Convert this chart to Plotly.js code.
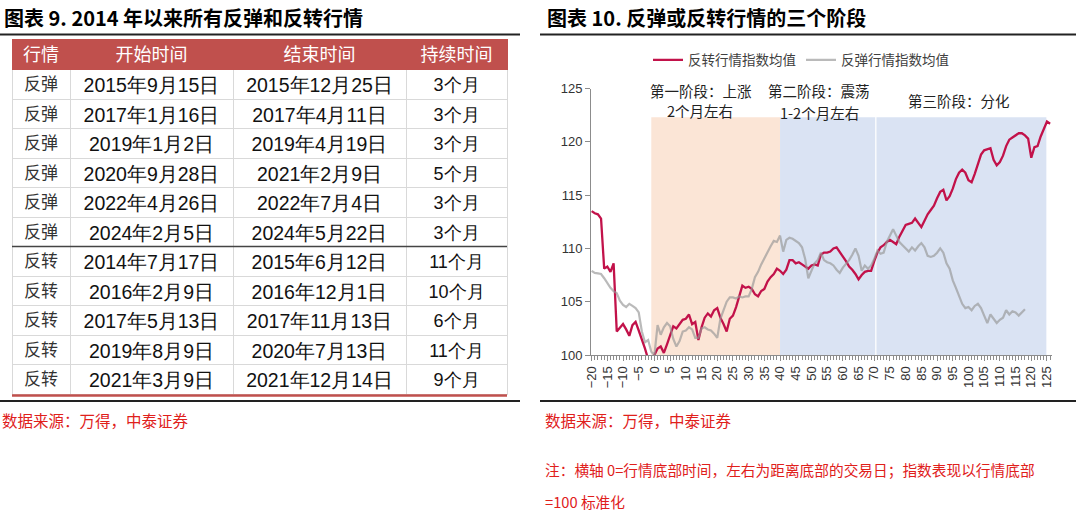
<!DOCTYPE html>
<html>
<head>
<meta charset="utf-8">
<script src="https://cdn.plot.ly/plotly-3.0.1.min.js"></script>
<style>
  html, body { margin: 0; padding: 0; background: #fff; }
  #chart { width: 1080px; height: 522px; }
</style>
</head>
<body>
<div id="chart"></div>
<script>
// 图表9：2014年以来所有反弹和反转行情
var tableHeader = ['行情', '开始时间', '结束时间', '持续时间'];
var marketType = ['反弹', '反弹', '反弹', '反弹', '反弹', '反弹', '反转', '反转', '反转', '反转', '反转'];
var startDate = ['2015年9月15日', '2017年1月16日', '2019年1月2日', '2020年9月28日', '2022年4月26日', '2024年2月5日',
                 '2014年7月17日', '2016年2月9日', '2017年5月13日', '2019年8月9日', '2021年3月9日'];
var endDate = ['2015年12月25日', '2017年4月11日', '2019年4月19日', '2021年2月9日', '2022年7月4日', '2024年5月22日',
               '2015年6月12日', '2016年12月1日', '2017年11月13日', '2020年7月13日', '2021年12月14日'];
var duration = ['3个月', '3个月', '3个月', '5个月', '3个月', '3个月', '11个月', '10个月', '6个月', '11个月', '9个月'];

// 图表10：横轴 0=行情底部时间（交易日），指数以底部=100标准化
var days = [-20, -19, -18, -17, -16, -15, -14, -13, -12, -11, -10, -9, -8, -7, -6, -5, -4, -3, -2, -1,
            0, 1, 2, 3, 4, 5, 6, 7, 8, 9, 10, 11, 12, 13, 14, 15, 16, 17, 18, 19,
            20, 21, 22, 23, 24, 25, 26, 27, 28, 29, 30, 31, 32, 33, 34, 35, 36, 37, 38, 39,
            40, 41, 42, 43, 44, 45, 46, 47, 48, 49, 50, 51, 52, 53, 54, 55, 56, 57, 58, 59,
            60, 61, 62, 63, 64, 65, 66, 67, 68, 69, 70, 71, 72, 73, 74, 75, 76, 77, 78, 79,
            80, 81, 82, 83, 84, 85, 86, 87, 88, 89, 90, 91, 92, 93, 94, 95, 96, 97, 98, 99,
            100, 101, 102, 103, 104, 105, 106, 107, 108, 109, 110, 111, 112, 113, 114, 115, 116, 117, 118, 119,
            120, 121, 122, 123, 124, 125, 126];

var reversalMean = [113.5, 113.3, 113.2, 112.8, 108.1, 108.3, 107.8, 108.6, 102.2, 102.6, 102.9, 102.4, 101.8, 102.8, 103.1, 102.3, 101.5, 100.6, 99.6, 99.6,
                    100.0, 100.6, 100.8, 100.2, 101.0, 101.9, 102.7, 102.5, 102.9, 103.3, 103.4, 103.8, 102.9, 103.1, 101.4, 102.6, 103.5, 103.9, 103.6, 104.2,
                    104.4, 103.5, 102.9, 102.2, 103.4, 103.7, 104.5, 105.5, 106.5, 106.3, 106.4, 106.2, 105.7, 105.5, 106.0, 106.2, 106.9, 107.3, 107.6, 108.1,
                    107.9, 107.6, 108.0, 108.9, 108.9, 108.6, 108.7, 108.5, 108.3, 108.1, 108.4, 108.5, 108.4, 109.4, 109.6, 109.6, 109.7, 110.0, 110.1, 109.7,
                    109.3, 108.8, 108.3, 108.0, 107.6, 107.1, 107.5, 107.8, 107.9, 107.9, 108.8, 109.6, 110.1, 110.3, 110.6, 110.8, 110.6, 110.4, 111.1, 111.6,
                    112.2, 112.3, 112.4, 112.8, 112.4, 112.0, 112.6, 113.2, 113.6, 114.0, 114.7, 115.3, 115.5, 114.5, 114.9, 115.6, 116.5, 117.1, 117.4, 117.1,
                    116.4, 116.2, 117.0, 118.0, 118.8, 119.2, 119.3, 119.4, 118.3, 117.8, 118.1, 118.7, 119.6, 120.2, 120.4, 120.6, 120.8, 120.8, 120.6, 120.3,
                    118.5, 119.5, 119.6, 120.5, 121.3, 121.9, 121.7];

var reboundMean = [107.9, 107.7, 107.65, 107.6, 107.2, 106.7, 106.3, 106.0, 105.8, 105.1, 104.7, 104.5, 104.8, 104.6, 104.4, 104.0, 102.2, 101.2, 101.4, 100.3,
                   100.0, 102.8, 101.9, 102.6, 103.0, 102.7, 101.5, 100.8, 101.3, 102.2, 102.3, 102.6, 102.4, 101.6, 101.6, 102.5, 102.6, 102.4, 102.3, 102.0,
                   101.6, 103.4, 104.3, 105.0, 105.4, 105.4, 105.3, 105.5, 105.4, 105.5, 105.5, 106.2, 107.3, 107.8, 108.5, 109.1, 109.6, 110.2, 110.7, 110.6,
                   111.2, 109.7, 110.8, 111.0, 110.9, 110.7, 110.5, 110.1, 109.0, 107.2, 107.9, 108.6, 108.9, 109.6, 108.9, 108.7, 108.6, 108.4, 108.0, 107.7,
                   108.2, 108.5, 108.9, 109.4, 110.0, 109.3, 107.9, 108.4, 108.1, 108.4, 109.0, 109.8, 109.5, 109.6, 110.6, 111.2, 111.8, 111.2, 110.6, 110.3,
                   110.0, 109.7, 110.1, 109.8, 110.2, 110.5, 110.1, 109.3, 109.2, 109.3, 109.6, 110.0, 109.6, 108.6, 108.1, 107.0, 106.3, 105.5, 104.8, 104.4,
                   104.5, 104.2, 104.6, 104.8, 104.4, 103.7, 103.0, 103.8, 103.4, 103.0, 103.3, 103.5, 104.2, 103.8, 104.1, 104.0, 103.7, 104.0, 104.3];

// 三个阶段
var phaseNames = ['第一阶段：上涨', '第二阶段：震荡', '第三阶段：分化'];
var phaseNotes = ['2个月左右', '1-2个月左右', ''];
var phaseStart = [-1, 40, 70.7];
var phaseEnd = [40, 70.3, 124.8];
var phaseTop = 122.3;

var W = 1080, H = 522;
function px(x) { return x / W; }
function py(y) { return 1 - y / H; }

var redColor = '#c2124a';
var sourceRed = '#e0201b';
var cjk = 'Noto Sans CJK SC, sans-serif';
var latin = 'Liberation Sans, Arial, sans-serif';

var tableTrace = {
    type: 'table',
    domain: { x: [px(12), px(507)], y: [py(395.5), py(39.5)] },
    columnwidth: [58, 163, 173, 101],
    header: {
        values: tableHeader,
        align: 'center',
        height: 30,
        fill: { color: '#c0504d' },
        line: { color: '#c0504d', width: 1 },
        font: { family: cjk, size: 18, color: '#ffffff' }
    },
    cells: {
        values: [marketType, startDate, endDate, duration],
        align: 'center',
        height: 29.5,
        fill: { color: '#ffffff' },
        line: { color: '#d9d9d9', width: 1 },
        font: {
            family: [cjk, latin, latin, latin],
            size: [17, 19.5, 19.5, 18],
            color: ['#333333', '#111111', '#111111', '#111111']
        }
    }
};

var reversalTrace = {
    x: days,
    y: reversalMean,
    type: 'scatter',
    mode: 'lines',
    name: '反转行情指数均值',
    line: { color: redColor, width: 2.3 },
    xaxis: 'x', yaxis: 'y'
};

var reboundTrace = {
    x: days.slice(0, reboundMean.length),
    y: reboundMean,
    type: 'scatter',
    mode: 'lines',
    name: '反弹行情指数均值',
    line: { color: 'rgba(150,150,150,0.66)', width: 2.2 },
    xaxis: 'x', yaxis: 'y'
};

// 阶段底色
var phaseColors = ['#fbe5d6', '#dae3f3', '#dae3f3'];
var shapes = phaseStart.map(function (s, i) {
    return {
        type: 'rect', xref: 'x', yref: 'y', layer: 'below',
        x0: s, x1: phaseEnd[i], y0: 100, y1: phaseTop,
        fillcolor: phaseColors[i], line: { width: 0 }
    };
});

// 标题下和底部的黑线、表格分组线
function hline(x0, x1, y, color, width) {
    return { type: 'line', xref: 'paper', yref: 'paper', x0: px(x0), x1: px(x1), y0: py(y), y1: py(y),
             line: { color: color, width: width } };
}
shapes.push(hline(0, 520, 34.5, '#222222', 2));
shapes.push(hline(540, 1076, 34.5, '#222222', 2));
shapes.push(hline(0, 520, 401, '#222222', 2));
shapes.push(hline(540, 1076, 401, '#222222', 2));
shapes.push(hline(12, 507, 246.5, '#444444', 1.5));
shapes.push(hline(12, 507, 395.5, '#c0504d', 2.5));

function note(text, x, y, opts) {
    opts = opts || {};
    return {
        xref: 'paper', yref: 'paper', x: px(x), y: py(y),
        xanchor: opts.xanchor || 'left', yanchor: 'middle',
        text: text, showarrow: false,
        font: { family: cjk, size: opts.size || 14, color: opts.color || '#000' }
    };
}

var annotations = [
    note('<b>图表 9. 2014 年以来所有反弹和反转行情</b>', 2, 18, { size: 20 }),
    note('<b>图表 10. 反弹或反转行情的三个阶段</b>', 545, 18, { size: 20 }),
    note('数据来源：万得，中泰证券', 0, 420, { color: sourceRed, size: 15.5 }),
    note('数据来源：万得，中泰证券', 543, 420, { color: sourceRed, size: 15.5 }),
    note('注：横轴 0=行情底部时间，左右为距离底部的交易日；指数表现以行情底部', 543, 469, { color: sourceRed, size: 14.7 }),
    note('=100 标准化', 543, 501, { color: sourceRed, size: 14.7 }),
    note(phaseNames[0], 701, 90, { xanchor: 'center', size: 14.5, color: '#222' }),
    note(phaseNotes[0], 700, 110, { xanchor: 'center', size: 14.5, color: '#222' }),
    note(phaseNames[1], 819, 90, { xanchor: 'center', size: 14.5, color: '#222' }),
    note(phaseNotes[1], 819, 112, { xanchor: 'center', size: 14.5, color: '#222' }),
    note(phaseNames[2], 959, 100, { xanchor: 'center', size: 14.5, color: '#222' })
];

var layout = {
    width: W,
    height: H,
    margin: { l: 0, r: 0, t: 0, b: 0 },
    paper_bgcolor: '#ffffff',
    plot_bgcolor: 'rgba(0,0,0,0)',
    showlegend: true,
    legend: {
        orientation: 'h',
        x: px(648), xanchor: 'left',
        y: py(60), yanchor: 'middle',
        font: { family: cjk, size: 13.5, color: '#404040' },
        bgcolor: 'rgba(0,0,0,0)'
    },
    xaxis: {
        domain: [px(591), px(1052)],
        range: [-20.2, 126.6],
        anchor: 'y',
        showline: true, linecolor: '#8c8c8c', linewidth: 1,
        ticks: 'outside', ticklen: 5, tickcolor: '#8c8c8c',
        tick0: 0, dtick: 5, tickangle: -90,
        tickfont: { family: latin, size: 13, color: '#333' },
        minor: { dtick: 1, ticks: 'outside', ticklen: 4, tickcolor: '#8c8c8c', showgrid: false },
        showgrid: false, zeroline: false
    },
    yaxis: {
        domain: [py(355), py(88.5)],
        range: [100, 125],
        anchor: 'x',
        showline: true, linecolor: '#8c8c8c', linewidth: 1,
        ticks: 'outside', ticklen: 5, tickcolor: '#8c8c8c',
        dtick: 5,
        tickfont: { family: latin, size: 13, color: '#333' },
        showgrid: false, zeroline: false
    },
    shapes: shapes,
    annotations: annotations
};

Plotly.newPlot('chart', [tableTrace, reversalTrace, reboundTrace], layout, { staticPlot: true });
</script>
</body>
</html>
